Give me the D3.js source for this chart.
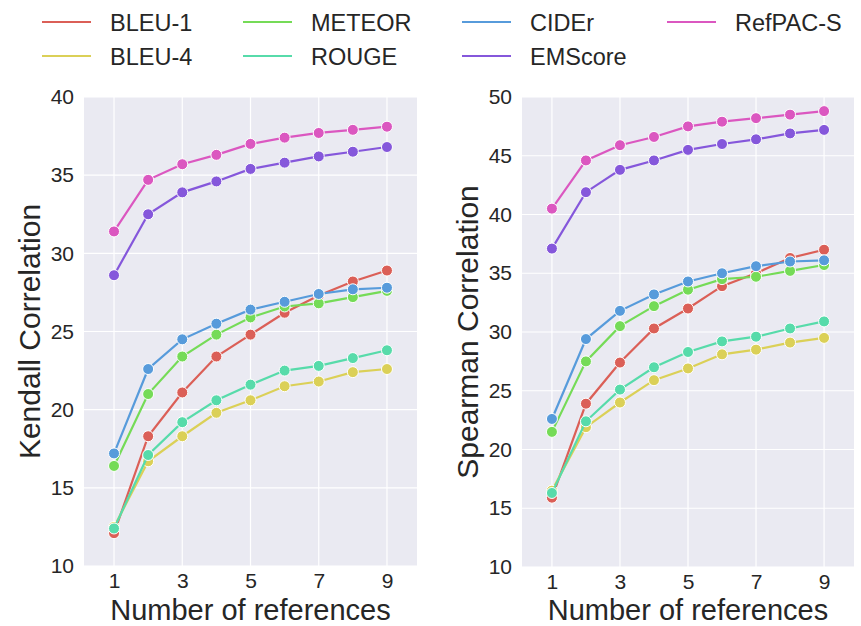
<!DOCTYPE html>
<html lang="en">
<head>
  <meta charset="utf-8">
  <title>Correlation vs number of references</title>
  <style>
    html,body { margin:0; padding:0; background:#fff; overflow:hidden; }
    svg  { display:block; font-family:"Liberation Sans", Arial, sans-serif; }
    text { fill:#262626; }
  </style>
  <script src="https://d3js.org/d3.v7.min.js"></script>
</head>
<body>
  <svg width="861" height="626"></svg>

  <script>
  /* ---------- data ---------- */
  const refs    = [1, 2, 3, 4, 5, 6, 7, 8, 9];
  const metrics = ["BLEU-1", "BLEU-4", "METEOR", "ROUGE", "CIDEr", "EMScore", "RefPAC-S"];
  const colors  = ["#db5f57", "#dbd057", "#75db57", "#57dbaa", "#579bdb", "#8557db", "#db57c0"];

  const kendallBleu1   = [12.1, 18.3, 21.1, 23.4, 24.8, 26.2, 27.3, 28.2, 28.9];
  const kendallBleu4   = [12.5, 16.7, 18.3, 19.8, 20.6, 21.5, 21.8, 22.4, 22.6];
  const kendallMeteor  = [16.4, 21.0, 23.4, 24.8, 25.9, 26.6, 26.8, 27.2, 27.6];
  const kendallRouge   = [12.4, 17.1, 19.2, 20.6, 21.6, 22.5, 22.8, 23.3, 23.8];
  const kendallCider   = [17.2, 22.6, 24.5, 25.5, 26.4, 26.9, 27.4, 27.7, 27.8];
  const kendallEms     = [28.6, 32.5, 33.9, 34.6, 35.4, 35.8, 36.2, 36.5, 36.8];
  const kendallRefpac  = [31.4, 34.7, 35.7, 36.3, 37.0, 37.4, 37.7, 37.9, 38.1];

  const spearmanBleu1  = [15.9, 23.9, 27.4, 30.3, 32.0, 33.9, 35.0, 36.3, 37.0];
  const spearmanBleu4  = [16.5, 21.9, 24.0, 25.9, 26.9, 28.1, 28.5, 29.1, 29.5];
  const spearmanMeteor = [21.5, 27.5, 30.5, 32.2, 33.6, 34.5, 34.7, 35.2, 35.7];
  const spearmanRouge  = [16.3, 22.4, 25.1, 27.0, 28.3, 29.2, 29.6, 30.3, 30.9];
  const spearmanCider  = [22.6, 29.4, 31.8, 33.2, 34.3, 35.0, 35.6, 36.0, 36.1];
  const spearmanEms    = [37.1, 41.9, 43.8, 44.6, 45.5, 46.0, 46.4, 46.9, 47.2];
  const spearmanRefpac = [40.5, 44.6, 45.9, 46.6, 47.5, 47.9, 48.2, 48.5, 48.8];

  const xTicks        = [1, 3, 5, 7, 9];
  const kendallTicks  = [10, 15, 20, 25, 30, 35, 40];
  const spearmanTicks = [10, 15, 20, 25, 30, 35, 40, 45, 50];

  const panels = [
    { label: "Kendall Correlation", ticks: kendallTicks, yMax: 40,
      series: [kendallBleu1, kendallBleu4, kendallMeteor, kendallRouge, kendallCider, kendallEms, kendallRefpac],
      left: 84, right: 417, top: 97, bottom: 566 },
    { label: "Spearman Correlation", ticks: spearmanTicks, yMax: 50,
      series: [spearmanBleu1, spearmanBleu4, spearmanMeteor, spearmanRouge, spearmanCider, spearmanEms, spearmanRefpac],
      left: 522, right: 854, top: 97, bottom: 567 }
  ];

  const svg = d3.select("svg");

  /* ---------- panels ---------- */
  panels.forEach(p => {
    const x = d3.scaleLinear().domain([0.12, 9.88]).range([p.left, p.right]);
    const y = d3.scaleLinear().domain([10, p.yMax]).range([p.bottom, p.top]);
    const g = svg.append("g");

    g.append("rect")
      .attr("x", p.left).attr("y", p.top)
      .attr("width", p.right - p.left).attr("height", p.bottom - p.top)
      .attr("fill", "#eaeaf2");

    // grid
    g.append("g").selectAll("line").data(xTicks).join("line")
      .attr("x1", d => x(d)).attr("x2", d => x(d))
      .attr("y1", p.top).attr("y2", p.bottom)
      .attr("stroke", "#fff").attr("stroke-width", 1.2);
    g.append("g").selectAll("line").data(p.ticks).join("line")
      .attr("x1", p.left).attr("x2", p.right)
      .attr("y1", d => y(d)).attr("y2", d => y(d))
      .attr("stroke", "#fff").attr("stroke-width", 1.2);

    // axes (labels only, seaborn darkgrid style)
    const xAxis = g.append("g")
      .attr("transform", `translate(0,${p.bottom})`)
      .call(d3.axisBottom(x).tickValues(xTicks).tickSize(0).tickPadding(7));
    const yAxis = g.append("g")
      .attr("transform", `translate(${p.left},0)`)
      .call(d3.axisLeft(y).tickValues(p.ticks).tickSize(0).tickPadding(10));
    [xAxis, yAxis].forEach(a => {
      a.select(".domain").remove();
      a.selectAll("text").attr("font-size", 21).attr("fill", "#262626")
        .style("font-family", "'Liberation Sans', Arial, sans-serif");
    });

    // series
    const line = d3.line().x((d, i) => x(refs[i])).y(d => y(d));
    p.series.forEach((vals, k) => {
      g.append("path")
        .datum(vals)
        .attr("d", line)
        .attr("fill", "none")
        .attr("stroke", colors[k])
        .attr("stroke-width", 2.2);
      g.append("g").selectAll("circle").data(vals).join("circle")
        .attr("cx", (d, i) => x(refs[i]))
        .attr("cy", d => y(d))
        .attr("r", 5.5)
        .attr("fill", colors[k])
        .attr("stroke", "#fff")
        .attr("stroke-width", 1);
    });

    // axis titles
    g.append("text")
      .attr("x", (p.left + p.right) / 2).attr("y", 619.5)
      .attr("text-anchor", "middle").attr("font-size", 29)
      .text("Number of references");
    g.append("text")
      .attr("transform", `translate(${p.left - 44},${(p.top + p.bottom) / 2}) rotate(-90)`)
      .attr("text-anchor", "middle").attr("font-size", 30)
      .text(p.label);
  });

  /* ---------- legend (4 columns, column-major) ---------- */
  const legendX = [42, 243, 462, 667];
  const legendY = [22, 56];
  const legend = svg.append("g");
  metrics.forEach((m, k) => {
    const lx = legendX[Math.floor(k / 2)], ly = legendY[k % 2];
    legend.append("line")
      .attr("x1", lx).attr("x2", lx + 49)
      .attr("y1", ly).attr("y2", ly)
      .attr("stroke", colors[k]).attr("stroke-width", 2.2);
    legend.append("text")
      .attr("x", lx + 68).attr("y", ly + 8.5)
      .attr("font-size", 23.5)
      .text(m);
  });
  </script>
</body>
</html>
